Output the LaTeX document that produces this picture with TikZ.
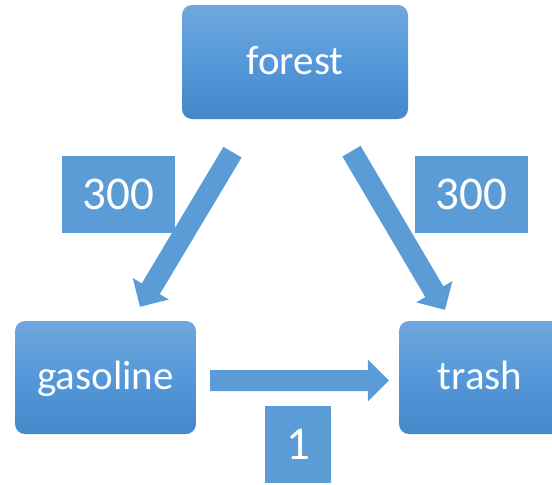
\documentclass[tikz,border=0pt]{standalone}
\usepackage{fontspec}
\setmainfont{Carlito}
\usetikzlibrary{calc}
\definecolor{flowblue}{RGB}{91,156,214}
\definecolor{boxtop}{RGB}{113,167,220}
\definecolor{boxmid}{RGB}{84,152,218}
\definecolor{boxbot}{RGB}{68,136,201}
% block arrow from #1 (tail) to #2 (tip); #3 names the head base point
\newcommand\blockarrow[3]{%
  \path ($(#2)!21pt!(#1)$) coordinate (#3);
  \fill[flow] ($(#1)!10.5pt!90:(#2)$) -- ($(#3)!10.5pt!90:(#2)$)
    -- ($(#3)!21pt!90:(#2)$) -- (#2) -- ($(#3)!21pt!-90:(#2)$)
    -- ($(#3)!10.5pt!-90:(#2)$) -- ($(#1)!10.5pt!-90:(#2)$) -- cycle;}
\begin{document}
\begin{tikzpicture}[x=1pt,y=-1pt,
  stage/.style={rounded corners=10pt, top color=boxtop, bottom color=boxbot,
    middle color=boxmid, text=white, font=\fontsize{41}{41}\selectfont,
    text height=24pt, text depth=0pt, inner sep=0pt, minimum height=113pt},
  amount/.style={fill=flowblue, text=white, font=\fontsize{47}{47}\selectfont,
    text height=30pt, text depth=0pt, inner sep=0pt,
    minimum width=113pt, minimum height=77pt},
  flow/.style={fill=flowblue}]
\useasboundingbox (0,0) rectangle (552,485);
\clip (0,0) rectangle (552,485);

\node[stage, minimum width=226pt, minimum height=114pt] (forest) at (295,62) {forest};
\node[stage, minimum width=181pt] (gasoline) at (105.5,377.5) {gasoline};
\node[stage, minimum width=162pt] (trash) at (480,377.5) {trash};

\node[amount] (w1) at (118.5,194) {300};
\node[amount] (w2) at (471.5,194.5) {300};
\node[amount, minimum width=66pt] (w3) at (298,444.5) {1};

\coordinate (fg-a) at ($(forest.south)+(-62.5,33)$);
\coordinate (fg-b) at ($(gasoline.north)+(34.5,-14)$);
\coordinate (ft-a) at ($(forest.south)+(56.5,32)$);
\coordinate (ft-b) at ($(trash.north)+(-35,-11)$);
\coordinate (gt-a) at ($(gasoline.east)+(14,3)$);
\coordinate (gt-b) at ($(trash.west)+(-10,3)$);

\blockarrow{fg-a}{fg-b}{fg-h}
\blockarrow{ft-a}{ft-b}{ft-h}
\blockarrow{gt-a}{gt-b}{gt-h}
\end{tikzpicture}
\end{document}
